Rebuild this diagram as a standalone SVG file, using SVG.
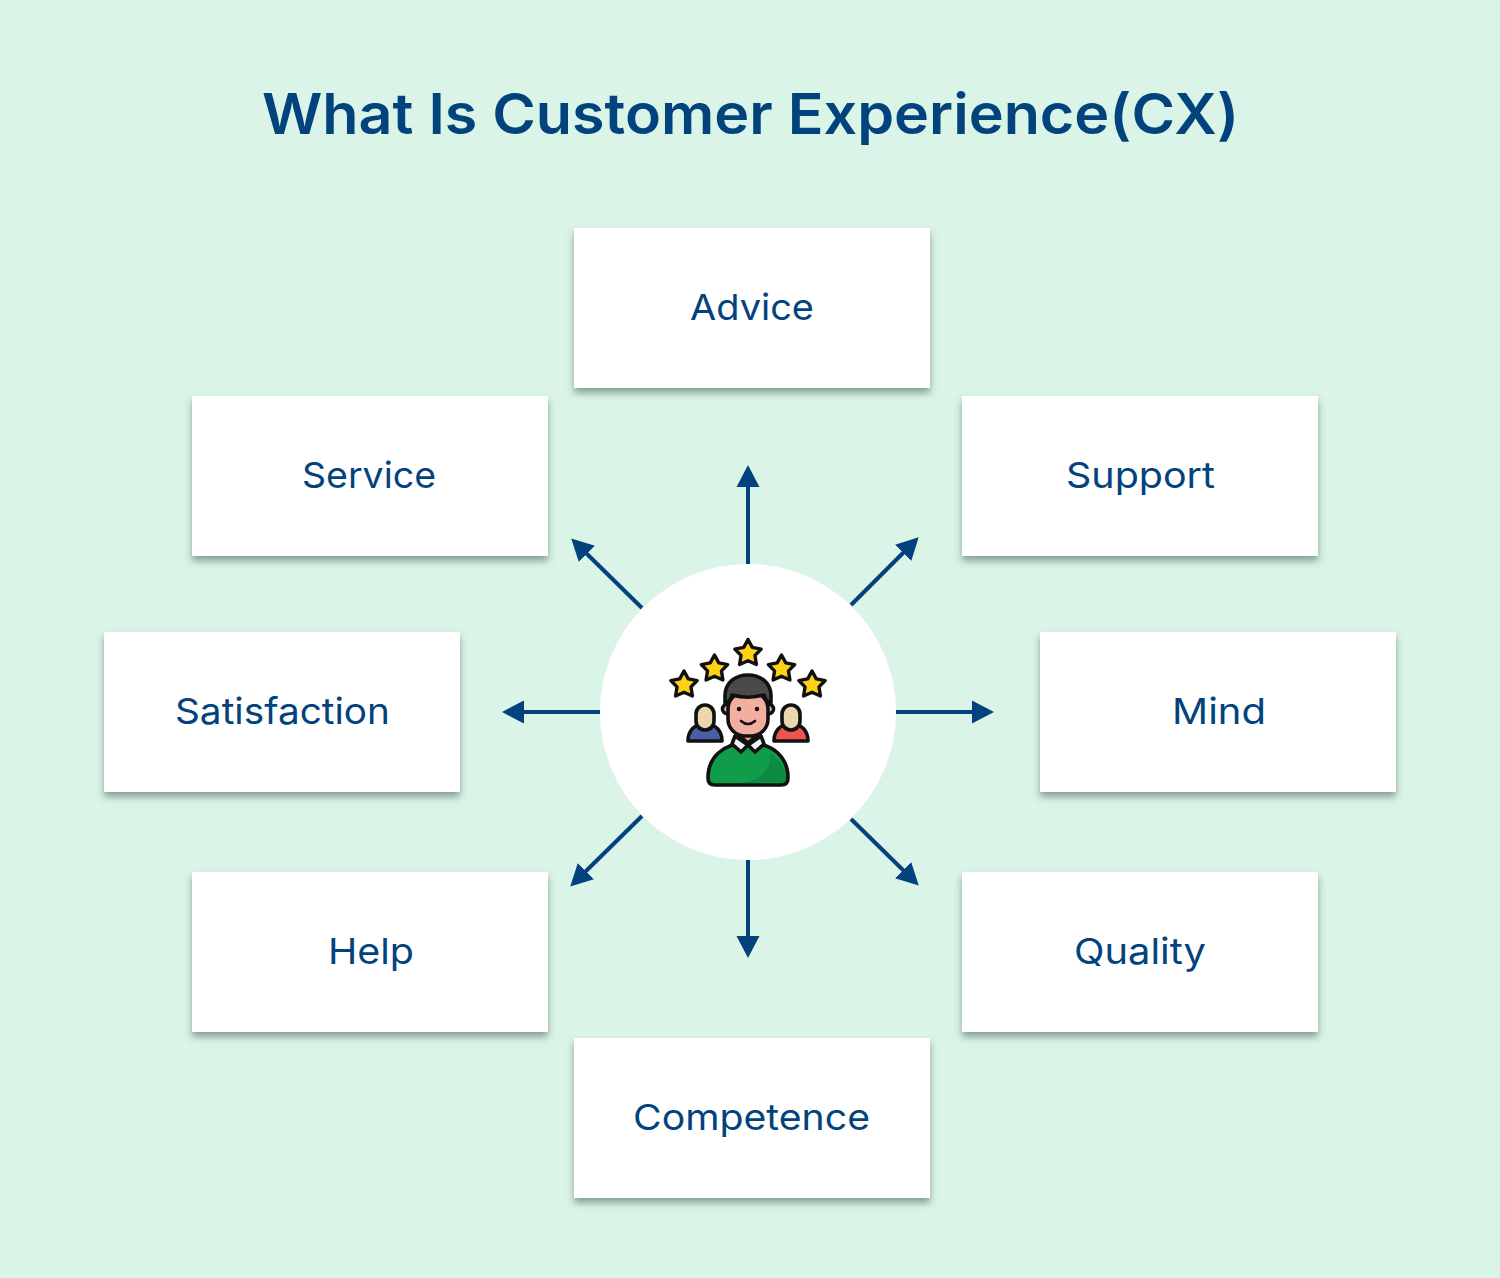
<svg xmlns="http://www.w3.org/2000/svg" width="1500" height="1278" viewBox="0 0 1500 1278">
<style>
.box{fill:#fff;filter:url(#sh)}
.lab{font-family:Inter,"Noto Sans","Liberation Sans",sans-serif;font-size:36px;fill:#03437d;font-weight:400}
.title{font-family:Inter,"Noto Sans","Liberation Sans",sans-serif;font-size:56px;fill:#03437d;font-weight:600}
.arr{stroke:#03437d;stroke-width:4;fill:none;marker-end:url(#ah)}
.o{stroke:#111;stroke-width:3.6;stroke-linejoin:round}
</style>
<defs>
<filter id="sh" x="-5%" y="-10%" width="110%" height="125%"><feDropShadow dx="0" dy="5" stdDeviation="3.5" flood-color="#2f4f3f" flood-opacity=".5"/></filter>
<marker id="ah" markerUnits="userSpaceOnUse" markerWidth="24" markerHeight="24" refX="2" refY="12" orient="auto"><path d="M0 .5L22 12L0 23.5Z" fill="#03437d"/></marker>
<path id="star" d="M0-13.500L4.300-5.600L13.200-3.900L7 2.400L8.400 11.500L0 7.700L-8.400 11.500L-7 2.400L-13.200-3.900L-4.300-5.600Z" fill="#fcd116" stroke="#111" stroke-width="3.400" stroke-linejoin="round"/>
</defs>
<rect width="1500" height="1278" fill="#daf4e7"/>
<text class="title" x="262" y="134" textLength="977" lengthAdjust="spacingAndGlyphs">What Is Customer Experience(CX)</text>
<g id="connectors">
<path class="arr" d="M748 564V485"/>
<path class="arr" d="M642 608L585.500 552.500"/>
<path class="arr" d="M851 605L904.500 551.500"/>
<path class="arr" d="M896 712H974"/>
<path class="arr" d="M600 712H522"/>
<path class="arr" d="M851 819L904.500 871.500"/>
<path class="arr" d="M642 816L584.500 872.500"/>
<path class="arr" d="M748 860V938"/>
</g>
<g id="node-advice"><rect class="box" x="574" y="228" width="356" height="160"/><text class="lab" x="690" y="320" textLength="124" lengthAdjust="spacingAndGlyphs">Advice</text></g>
<g id="node-service"><rect class="box" x="192" y="396" width="356" height="160"/><text class="lab" x="302" y="488" textLength="134" lengthAdjust="spacingAndGlyphs">Service</text></g>
<g id="node-support"><rect class="box" x="962" y="396" width="356" height="160"/><text class="lab" x="1066" y="488" textLength="149" lengthAdjust="spacingAndGlyphs">Support</text></g>
<g id="node-satisfaction"><rect class="box" x="104" y="632" width="356" height="160"/><text class="lab" x="175" y="724" textLength="215" lengthAdjust="spacingAndGlyphs">Satisfaction</text></g>
<g id="node-mind"><rect class="box" x="1040" y="632" width="356" height="160"/><text class="lab" x="1172" y="724" textLength="94" lengthAdjust="spacingAndGlyphs">Mind</text></g>
<g id="node-help"><rect class="box" x="192" y="872" width="356" height="160"/><text class="lab" x="328" y="964" textLength="86" lengthAdjust="spacingAndGlyphs">Help</text></g>
<g id="node-quality"><rect class="box" x="962" y="872" width="356" height="160"/><text class="lab" x="1074" y="964" textLength="132" lengthAdjust="spacingAndGlyphs">Quality</text></g>
<g id="node-competence"><rect class="box" x="574" y="1038" width="356" height="160"/><text class="lab" x="633" y="1130" textLength="237" lengthAdjust="spacingAndGlyphs">Competence</text></g>
<g id="node-center">
<circle cx="748" cy="712" r="148" fill="#fff"/>
<use href="#star" x="748" y="653"/>
<use href="#star" x="714.500" y="668.500"/>
<use href="#star" x="781.500" y="668.500"/>
<use href="#star" x="684" y="684.500"/>
<use href="#star" x="812" y="684.500"/>
<path class="o" d="M688 741C688 731 694 724 705 724C716 724 722 731 722 741Z" fill="#4a5da8"/>
<rect class="o" x="696" y="705" width="18" height="25" rx="9" fill="#ead7ae"/>
<path class="o" d="M774 741C774 731 780 724 791 724C802 724 808 731 808 741Z" fill="#ef5350"/>
<rect class="o" x="782" y="705" width="18" height="25" rx="9" fill="#ead7ae"/>
<path class="o" d="M708 778C708 758 722 743 748 743C774 743 788 758 788 778Q788 785 781 785H715Q708 785 708 778Z" fill="#0f9d4a"/>
<path d="M770 752C776 758 786 766 786 778Q786 783 781 783H740C760 780 772 772 770 752Z" fill="#0c8a41"/>
<path class="o" d="M738 735L748 743L758 735L748 727Z" fill="#f2ae9f"/>
<path class="o" d="M735 736L748 745L741 752L732 744Z" fill="#eef4f4"/>
<path class="o" d="M761 736L748 745L755 752L764 744Z" fill="#eef4f4"/>
<circle class="o" cx="727" cy="709" r="4.500" fill="#f2ae9f"/>
<circle class="o" cx="769" cy="709" r="4.500" fill="#f2ae9f"/>
<rect class="o" x="728" y="692" width="40" height="44" rx="17" fill="#f2ae9f"/>
<path class="o" d="M725 703V696C725 682 736 675 748 675C760 675 771 682 771 696V703L767 701C765 699 765 696 764 695C753 698 743 698 732 695C731 697 731 699 729 701Z" fill="#4a4a4a"/>
<circle cx="739" cy="709" r="2.200" fill="#111"/>
<circle cx="757" cy="709" r="2.200" fill="#111"/>
<path d="M741 721Q748 727 755 721" fill="none" stroke="#111" stroke-width="2.600" stroke-linecap="round"/>
</g>
</svg>
